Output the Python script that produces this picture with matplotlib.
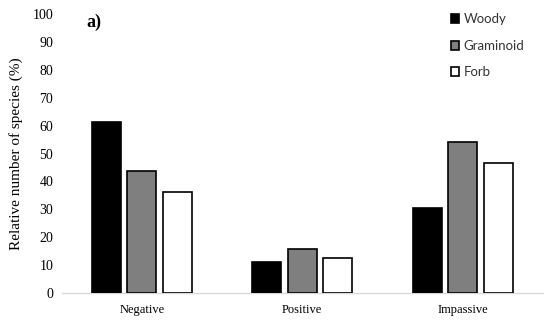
import numpy as np
import matplotlib.pyplot as plt

categories = ["Negative", "Positive", "Impassive"]
series = ["Woody", "Graminoid", "Forb"]
woody = [61.4, 11.2, 30.3]
graminoid = [43.8, 15.8, 54.0]
forb = [36.1, 12.5, 46.5]
yticks = list(range(0, 101, 10))

colors = ["#000000", "#7f7f7f", "#ffffff"]

fig = plt.figure(figsize=(5.5, 3.22), dpi=100)
ax = fig.add_axes([0.112, 0.090, 0.875, 0.8665])

x = np.arange(len(categories))
width = 0.18
step = 0.221
for i, (vals, name) in enumerate(zip([woody, graminoid, forb], series)):
    ax.bar(x + (i - 1) * step, vals, width, color=colors[i], edgecolor="black",
           linewidth=1.2, label=name, zorder=3)

ax.set_xlim(-0.5, 2.5)
ax.set_ylim(0, 100)
ax.set_yticks(yticks)
ax.set_xticks(x)
ax.set_xticklabels(categories, family="Liberation Serif", fontsize=9)
for lab in ax.get_yticklabels():
    lab.set_family("Liberation Serif")
    lab.set_fontsize(10)
ax.tick_params(axis="both", length=0, pad=6)
ax.tick_params(axis="x", pad=8)

for s in ["top", "right", "left"]:
    ax.spines[s].set_visible(False)
ax.spines["bottom"].set_color("#d9d9d9")
ax.spines["bottom"].set_linewidth(1.0)

ax.set_ylabel("Relative number of species (%)", family="Liberation Serif",
              fontsize=11, labelpad=7)

ax.text(-0.3, 97, "a)", family="Liberation Serif", fontweight="bold",
        fontsize=13, ha="center", va="center")

leg = ax.legend(loc="upper left", bbox_to_anchor=(0.784, 1.045), frameon=False,
                handlelength=0.65, handleheight=0.65, handletextpad=0.3,
                labelspacing=1.1, prop={"family": "Lato", "size": 9.5})
for t in leg.get_texts():
    t.set_color("#333333")

plt.savefig("out.png", dpi=100)
